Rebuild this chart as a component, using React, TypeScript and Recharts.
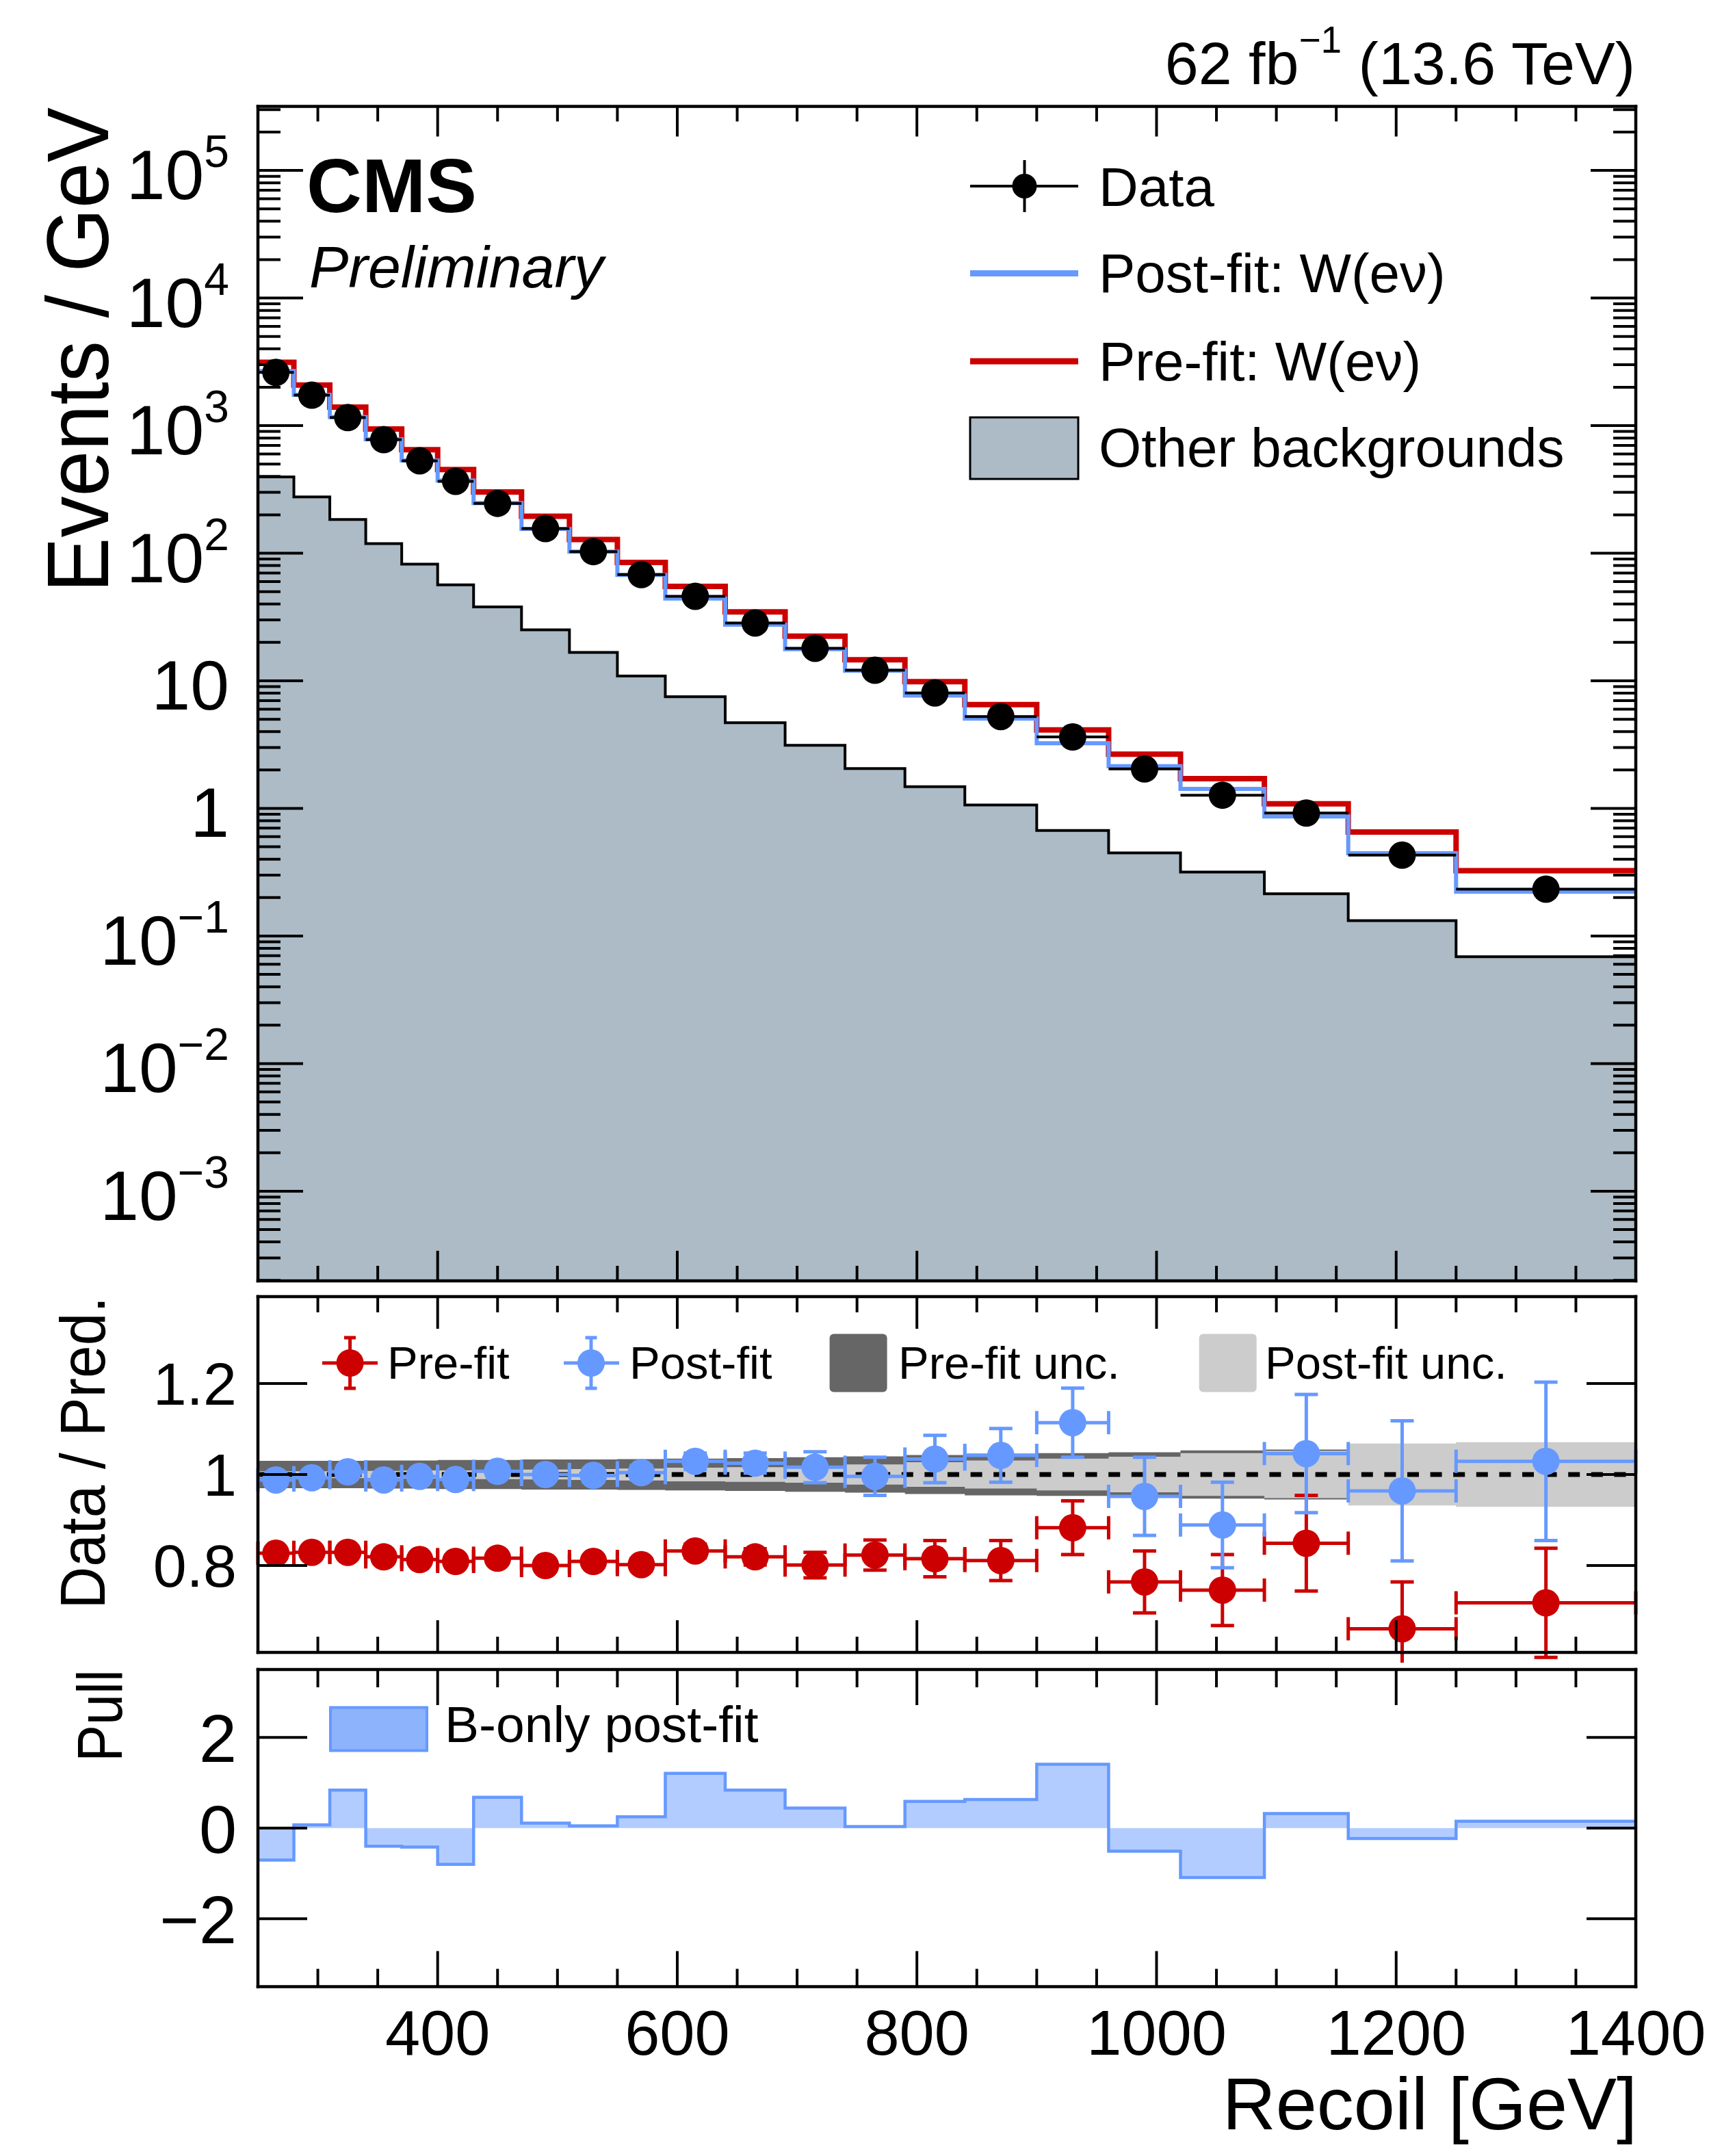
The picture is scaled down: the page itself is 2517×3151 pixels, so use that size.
import React from 'react';
import { ComposedChart, Line, Area, Scatter, XAxis, YAxis, ErrorBar } from 'recharts';

// ---------------- data ----------------
const binEdges = [250, 280, 310, 340, 370, 400, 430, 470, 510, 550, 590, 640, 690, 740, 790, 840, 900, 960, 1020, 1090, 1160, 1250, 1400];
const dataYields = [2612, 1733, 1157, 776, 530, 366, 246, 156, 103, 68, 46, 28.4, 18, 12.1, 8.04, 5.25, 3.63, 2.04, 1.27, 0.92, 0.43, 0.233];
const preFitYields = [3133, 2083, 1397, 942, 647, 453, 302, 194.6, 128, 84.7, 55, 34.7, 22.4, 14.6, 9.86, 6.51, 4.12, 2.66, 1.71, 1.087, 0.652, 0.325];
const postFitYields = [2680, 1746, 1167, 782, 533, 372, 247, 155, 102.8, 67.5, 44.2, 27.5, 17.7, 12.0, 7.67, 5.05, 3.24, 2.14, 1.42, 0.865, 0.445, 0.222];
const otherBkgYields = [396, 276, 184, 119, 82.2, 56.6, 37.9, 25.1, 16.7, 10.9, 7.5, 4.7, 3.12, 2.05, 1.48, 1.064, 0.671, 0.448, 0.317, 0.214, 0.132, 0.0687];

const ratioPreFit = [0.827, 0.829, 0.829, 0.819, 0.813, 0.809, 0.816, 0.8, 0.809, 0.802, 0.832, 0.819, 0.801, 0.823, 0.815, 0.811, 0.883, 0.764, 0.746, 0.849, 0.661, 0.718];
const ratioPreFitErr = [0.004, 0.005, 0.005, 0.006, 0.007, 0.008, 0.009, 0.01, 0.012, 0.013, 0.015, 0.018, 0.028, 0.033, 0.04, 0.044, 0.059, 0.068, 0.078, 0.105, 0.103, 0.12];
const ratioPostFit = [0.988, 0.993, 1.006, 0.988, 0.996, 0.989, 1.007, 1.0, 0.998, 1.004, 1.029, 1.025, 1.016, 0.996, 1.034, 1.042, 1.114, 0.952, 0.889, 1.046, 0.964, 1.029];
const ratioPostFitErr = [0.005, 0.006, 0.007, 0.008, 0.009, 0.01, 0.011, 0.012, 0.014, 0.016, 0.018, 0.022, 0.034, 0.042, 0.052, 0.059, 0.076, 0.086, 0.094, 0.13, 0.154, 0.174];
const preFitUncHalf = [0.03, 0.03, 0.03, 0.031, 0.031, 0.032, 0.032, 0.033, 0.033, 0.034, 0.035, 0.036, 0.038, 0.04, 0.043, 0.046, 0.047, 0.049, 0.053, 0.055, 0.06, 0.065];
const postFitUncHalf = [0.007, 0.007, 0.008, 0.008, 0.009, 0.009, 0.01, 0.011, 0.012, 0.013, 0.015, 0.016, 0.018, 0.022, 0.027, 0.031, 0.035, 0.039, 0.047, 0.052, 0.068, 0.071];

const pullValues = [-0.705, 0.07, 0.84, -0.4, -0.42, -0.8, 0.68, 0.11, 0.05, 0.25, 1.21, 0.84, 0.44, 0.035, 0.59, 0.63, 1.41, -0.51, -1.09, 0.32, -0.23, 0.15];

// ticks
const xTicks = [300, 350, 400, 450, 500, 550, 600, 650, 700, 750, 800, 850, 900, 950, 1000, 1050, 1100, 1150, 1200, 1250, 1300, 1350, 1400];
const xMajorTicks = [400, 600, 800, 1000, 1200, 1400];
const logMajorExponents = [-3, -2, -1, 0, 1, 2, 3, 4, 5];
const logMinorMultipliers = [2, 3, 4, 5, 6, 7, 8, 9];
const ratioTicks = [0.8, 1, 1.2];
const pullTicks = [-2, 0, 2];

// ---------------- style ----------------
const FONT = "'Liberation Sans', Arimo, Arial, Helvetica, sans-serif";
const RED = '#cc0000';
const BLUE = '#6699ff';
const BKG = '#acbbc6';
const XMIN = 250;
const XMAX = 1400;
const YMIN = Math.pow(10, -3.703);
const YMAX = Math.pow(10, 5.502);

// ---------------- derived series ----------------
const stepOf = (vals: number[]) => binEdges.map((e, i) => ({ x: e, y: vals[Math.min(i, vals.length - 1)] }));
const centers = binEdges.slice(0, -1).map((e, i) => (e + binEdges[i + 1]) / 2);
const halfW = binEdges.slice(0, -1).map((e, i) => (binEdges[i + 1] - e) / 2);

const bkgStep = stepOf(otherBkgYields);
const preStep = stepOf(preFitYields);
const postStep = stepOf(postFitYields);
const dataPts = centers.map((c, i) => ({ x: c, y: dataYields[i], ex: halfW[i] }));
const ratioPrePts = centers.map((c, i) => ({ x: c, y: ratioPreFit[i], ex: halfW[i], ey: ratioPreFitErr[i] }));
const ratioPostPts = centers.map((c, i) => ({ x: c, y: ratioPostFit[i], ex: halfW[i], ey: ratioPostFitErr[i] }));
const bandStep = binEdges.map((e, i) => {
  const j = Math.min(i, preFitUncHalf.length - 1);
  return { x: e, pre: [1 - preFitUncHalf[j], 1 + preFitUncHalf[j]], post: [1 - postFitUncHalf[j], 1 + postFitUncHalf[j]] };
});
const unityLine = [{ x: XMIN, y: 1 }, { x: XMAX, y: 1 }];
const pullStep = binEdges.map((e, i) => ({ x: e, p: pullValues[Math.min(i, pullValues.length - 1)] }));

const logTicks: number[] = [];
for (let e = -4; e <= 5; e++) {
  logTicks.push(Math.pow(10, e));
  logMinorMultipliers.forEach((m) => logTicks.push(m * Math.pow(10, e)));
}
const logTicksInRange = logTicks.filter((v) => v > YMIN && v < YMAX);
const isLogMajor = (v: number) => {
  const l = Math.log10(v);
  return Math.abs(l - Math.round(l)) < 1e-6 && logMajorExponents.includes(Math.round(l));
};

// ---------------- tick renderers ----------------
function makeXTick(dir: number, majLen: number, minLen: number, withLabel: boolean) {
  return (props: any) => {
    const { x, y, payload } = props;
    const v = payload.value;
    const isMaj = xMajorTicks.includes(v);
    const len = isMaj ? majLen : minLen;
    return (
      <g>
        <line x1={x} x2={x} y1={y} y2={y + dir * len} stroke="#000" strokeWidth={4} />
        {withLabel && isMaj ? (
          <text x={x} y={y + 99} textAnchor="middle" fontSize={92} fontFamily={FONT} fill="#000">
            {v}
          </text>
        ) : null}
      </g>
    );
  };
}

function makeYTick(
  dir: number,
  isMajor: (v: number) => boolean,
  majLen: number,
  minLen: number,
  label?: (v: number, x: number, y: number) => React.ReactNode
) {
  return (props: any) => {
    const { x, y, payload } = props;
    const v = payload.value;
    const maj = isMajor(v);
    const len = maj ? majLen : minLen;
    return (
      <g>
        <line x1={x} x2={x + dir * len} y1={y} y2={y} stroke="#000" strokeWidth={4} />
        {label && maj ? label(v, x, y) : null}
      </g>
    );
  };
}

const logLabel = (v: number, x: number, y: number) => {
  const e = Math.round(Math.log10(v));
  const common = { x: x - 42, y: y + 42, textAnchor: 'end' as const, fontFamily: FONT, fill: '#000', fontSize: 102 };
  if (e === 0) return <text {...common}>1</text>;
  if (e === 1) return <text {...common}>10</text>;
  return (
    <text {...common}>
      10
      <tspan dy={-47} fontSize={66}>
        {e < 0 ? '\u2212' + Math.abs(e) : String(e)}
      </tspan>
    </text>
  );
};

const ratioLabel = (v: number, x: number, y: number) => (
  <text x={x - 31} y={y + 31} textAnchor="end" fontFamily={FONT} fontSize={88} fill="#000">
    {v === 1 ? '1' : v.toFixed(1)}
  </text>
);

const pullLabel = (v: number, x: number, y: number) => (
  <text x={x - 31} y={y + 36} textAnchor="end" fontFamily={FONT} fontSize={99} fill="#000">
    {v < 0 ? '\u2212' + Math.abs(v) : String(v)}
  </text>
);

const frameLine = { stroke: '#000', strokeWidth: 4.5, strokeLinecap: 'square' as const };

const circleShape = (r: number, fill: string) => (props: any) =>
  props.cx == null || props.cy == null ? <g /> : <circle cx={props.cx} cy={props.cy} r={r} fill={fill} />;

// ---------------- overlay text helper ----------------
function VText(props: { x: number; y: number; size: number; sx?: number; children: React.ReactNode }) {
  const sx = props.sx ?? 0.93;
  return (
    <text
      transform={`translate(${props.x},${props.y}) rotate(-90) scale(${sx},1)`}
      x={0}
      y={0}
      textAnchor="end"
      fontFamily={FONT}
      fontSize={props.size}
      fill="#000"
    >
      {props.children}
    </text>
  );
}

export default function App() {
  return (
    <div style={{ position: 'absolute', left: 0, top: 0, width: 2517, height: 3151, background: '#fff', overflow: 'hidden' }}>
      {/* ---------- main panel ---------- */}
      <div style={{ position: 'absolute', left: 0, top: 0 }}>
        <ComposedChart width={2517} height={1890} margin={{ top: 154.5, right: 125, bottom: 17, left: 0 }}>
          <XAxis
            xAxisId={0}
            dataKey="x"
            type="number"
            domain={[XMIN, XMAX]}
            allowDataOverflow
            ticks={xTicks}
            interval={0}
            height={1}
            tickSize={0}
            tickMargin={0}
            axisLine={frameLine}
            tick={makeXTick(-1, 44, 22, false)}
          />
          <XAxis
            xAxisId="t"
            orientation="top"
            dataKey="x"
            type="number"
            domain={[XMIN, XMAX]}
            allowDataOverflow
            ticks={xTicks}
            interval={0}
            height={1}
            tickSize={0}
            tickMargin={0}
            axisLine={frameLine}
            tick={makeXTick(1, 44, 22, false)}
          />
          <YAxis
            yAxisId={0}
            dataKey="y"
            type="number"
            scale="log"
            domain={[YMIN, YMAX]}
            allowDataOverflow
            ticks={logTicksInRange}
            interval={0}
            width={377}
            tickSize={0}
            tickMargin={0}
            axisLine={frameLine}
            tick={makeYTick(1, isLogMajor, 66, 33, logLabel)}
          />
          <YAxis
            yAxisId="r"
            orientation="right"
            type="number"
            scale="log"
            domain={[YMIN, YMAX]}
            allowDataOverflow
            ticks={logTicksInRange}
            interval={0}
            width={1}
            tickSize={0}
            tickMargin={0}
            axisLine={frameLine}
            tick={makeYTick(-1, isLogMajor, 66, 33)}
          />
          <Area
            data={bkgStep}
            dataKey="y"
            type="stepAfter"
            baseValue={YMIN}
            fill={BKG}
            fillOpacity={1}
            stroke="#000"
            strokeWidth={4}
            dot={false}
            activeDot={false}
            isAnimationActive={false}
          />
          <Line data={preStep} dataKey="y" type="stepAfter" stroke={RED} strokeWidth={8} dot={false} activeDot={false} isAnimationActive={false} />
          <Line data={postStep} dataKey="y" type="stepAfter" stroke={BLUE} strokeWidth={6} dot={false} activeDot={false} isAnimationActive={false} />
          <Scatter data={dataPts} dataKey="y" fill="#000" shape={circleShape(20, '#000')} isAnimationActive={false}>
            <ErrorBar dataKey="ex" direction="x" width={0} stroke="#000" strokeWidth={4} />
          </Scatter>
        </ComposedChart>
      </div>

      {/* ---------- ratio panel ---------- */}
      <div style={{ position: 'absolute', left: 0, top: 1880 }}>
        <ComposedChart width={2517} height={550} margin={{ top: 14, right: 125, bottom: 14, left: 0 }}>
          <XAxis
            xAxisId={0}
            dataKey="x"
            type="number"
            domain={[XMIN, XMAX]}
            allowDataOverflow
            ticks={xTicks}
            interval={0}
            height={1}
            tickSize={0}
            tickMargin={0}
            axisLine={frameLine}
            tick={makeXTick(-1, 47, 23, false)}
          />
          <XAxis
            xAxisId="t"
            orientation="top"
            dataKey="x"
            type="number"
            domain={[XMIN, XMAX]}
            allowDataOverflow
            ticks={xTicks}
            interval={0}
            height={1}
            tickSize={0}
            tickMargin={0}
            axisLine={frameLine}
            tick={makeXTick(1, 47, 23, false)}
          />
          <YAxis
            yAxisId={0}
            dataKey="y"
            type="number"
            domain={[0.609, 1.391]}
            allowDataOverflow
            ticks={ratioTicks}
            interval={0}
            width={377}
            tickSize={0}
            tickMargin={0}
            axisLine={frameLine}
            tick={makeYTick(1, () => true, 72, 36, ratioLabel)}
          />
          <YAxis
            yAxisId="r"
            orientation="right"
            type="number"
            domain={[0.609, 1.391]}
            allowDataOverflow
            ticks={ratioTicks}
            interval={0}
            width={1}
            tickSize={0}
            tickMargin={0}
            axisLine={frameLine}
            tick={makeYTick(-1, () => true, 72, 36)}
          />
          <Area data={bandStep} dataKey="pre" type="stepAfter" fill="#666666" fillOpacity={1} stroke="none" dot={false} activeDot={false} isAnimationActive={false} />
          <Area data={bandStep} dataKey="post" type="stepAfter" fill="#cccccc" fillOpacity={1} stroke="none" dot={false} activeDot={false} isAnimationActive={false} />
          <Line data={unityLine} dataKey="y" stroke="#000" strokeWidth={7} strokeDasharray="17 16.6" dot={false} activeDot={false} isAnimationActive={false} />
          <Scatter data={ratioPrePts} dataKey="y" fill={RED} shape={circleShape(20, RED)} isAnimationActive={false}>
            <ErrorBar dataKey="ex" direction="x" width={17} stroke={RED} strokeWidth={5} />
            <ErrorBar dataKey="ey" direction="y" width={17} stroke={RED} strokeWidth={5} />
          </Scatter>
          <Scatter data={ratioPostPts} dataKey="y" fill={BLUE} shape={circleShape(20, BLUE)} isAnimationActive={false}>
            <ErrorBar dataKey="ex" direction="x" width={17} stroke={BLUE} strokeWidth={5} />
            <ErrorBar dataKey="ey" direction="y" width={17} stroke={BLUE} strokeWidth={5} />
          </Scatter>
        </ComposedChart>
      </div>

      {/* ---------- pull panel ---------- */}
      <div style={{ position: 'absolute', left: 0, top: 2430 }}>
        <ComposedChart width={2517} height={721} margin={{ top: 9, right: 125, bottom: 246.5, left: 0 }}>
          <XAxis
            xAxisId={0}
            dataKey="x"
            type="number"
            domain={[XMIN, XMAX]}
            allowDataOverflow
            ticks={xTicks}
            interval={0}
            height={1}
            tickSize={0}
            tickMargin={0}
            axisLine={frameLine}
            tick={makeXTick(-1, 52, 26, true)}
          />
          <XAxis
            xAxisId="t"
            orientation="top"
            dataKey="x"
            type="number"
            domain={[XMIN, XMAX]}
            allowDataOverflow
            ticks={xTicks}
            interval={0}
            height={1}
            tickSize={0}
            tickMargin={0}
            axisLine={frameLine}
            tick={makeXTick(1, 52, 26, false)}
          />
          <YAxis
            yAxisId={0}
            type="number"
            domain={[-3.5, 3.5]}
            allowDataOverflow
            ticks={pullTicks}
            interval={0}
            width={377}
            tickSize={0}
            tickMargin={0}
            axisLine={frameLine}
            tick={makeYTick(1, () => true, 72, 36, pullLabel)}
          />
          <YAxis
            yAxisId="r"
            orientation="right"
            type="number"
            domain={[-3.5, 3.5]}
            allowDataOverflow
            ticks={pullTicks}
            interval={0}
            width={1}
            tickSize={0}
            tickMargin={0}
            axisLine={frameLine}
            tick={makeYTick(-1, () => true, 72, 36)}
          />
          <Area
            data={pullStep}
            dataKey="p"
            type="stepAfter"
            baseValue={0}
            fill="#b3ccff"
            fillOpacity={1}
            stroke={BLUE}
            strokeWidth={4.5}
            dot={false}
            activeDot={false}
            isAnimationActive={false}
          />
        </ComposedChart>
      </div>

      {/* ---------- texts & legends ---------- */}
      <svg width={2517} height={3151} style={{ position: 'absolute', left: 0, top: 0, pointerEvents: 'none' }}>
        {/* header */}
        <text x={2390} y={123} textAnchor="end" fontFamily={FONT} fontSize={88} fill="#000">
          62 fb
          <tspan dy={-46} fontSize={55}>
            {'\u22121'}
          </tspan>
          <tspan dy={46}> (13.6 TeV)</tspan>
        </text>
        <text x={448} y={310} fontFamily={FONT} fontSize={112} fontWeight="bold" fill="#000">
          CMS
        </text>
        <text x={452} y={420} fontFamily={FONT} fontSize={86} fontStyle="italic" fill="#000">
          Preliminary
        </text>

        {/* axis titles */}
        <VText x={158} y={157} size={128} sx={0.94}>
          Events / GeV
        </VText>
        <VText x={153} y={1895} size={92} sx={0.93}>
          Data / Pred.
        </VText>
        <VText x={178} y={2440} size={92} sx={0.88}>
          Pull
        </VText>
        <text x={2393} y={3112} textAnchor="end" fontFamily={FONT} fontSize={108} fill="#000">
          Recoil [GeV]
        </text>

        {/* main legend */}
        <line x1={1418} x2={1576} y1={272} y2={272} stroke="#000" strokeWidth={4} />
        <line x1={1497.5} x2={1497.5} y1={234} y2={310} stroke="#000" strokeWidth={4} />
        <circle cx={1497.5} cy={272} r={18} fill="#000" />
        <text x={1606} y={301} fontFamily={FONT} fontSize={80} fill="#000">
          Data
        </text>
        <line x1={1418} x2={1576} y1={399.5} y2={399.5} stroke={BLUE} strokeWidth={9} />
        <text x={1606} y={427} fontFamily={FONT} fontSize={80} fill="#000">
          Post-fit: W(eν)
        </text>
        <line x1={1418} x2={1576} y1={528} y2={528} stroke={RED} strokeWidth={9} />
        <text x={1606} y={556} fontFamily={FONT} fontSize={80} fill="#000">
          Pre-fit: W(eν)
        </text>
        <rect x={1418} y={610} width={158} height={90} fill={BKG} stroke="#000" strokeWidth={3} />
        <text x={1606} y={682} fontFamily={FONT} fontSize={80} fill="#000">
          Other backgrounds
        </text>

        {/* ratio legend */}
        <line x1={471} x2={552} y1={1992} y2={1992} stroke={RED} strokeWidth={5} />
        <line x1={511.6} x2={511.6} y1={1955} y2={2029} stroke={RED} strokeWidth={5} />
        <line x1={503} x2={520} y1={1955} y2={1955} stroke={RED} strokeWidth={5} />
        <line x1={503} x2={520} y1={2029} y2={2029} stroke={RED} strokeWidth={5} />
        <circle cx={511.6} cy={1992} r={20} fill={RED} />
        <text x={566} y={2015} fontFamily={FONT} fontSize={67} fill="#000">
          Pre-fit
        </text>
        <line x1={824} x2={905} y1={1992} y2={1992} stroke={BLUE} strokeWidth={5} />
        <line x1={864} x2={864} y1={1955} y2={2029} stroke={BLUE} strokeWidth={5} />
        <line x1={855.5} x2={872.5} y1={1955} y2={1955} stroke={BLUE} strokeWidth={5} />
        <line x1={855.5} x2={872.5} y1={2029} y2={2029} stroke={BLUE} strokeWidth={5} />
        <circle cx={864} cy={1992} r={20} fill={BLUE} />
        <text x={920} y={2015} fontFamily={FONT} fontSize={67} fill="#000">
          Post-fit
        </text>
        <rect x={1212.6} y={1949.5} width={84} height={85} rx={6} fill="#666666" />
        <text x={1313} y={2015} fontFamily={FONT} fontSize={67} fill="#000">
          Pre-fit unc.
        </text>
        <rect x={1752.7} y={1949.5} width={84} height={85} rx={6} fill="#cccccc" />
        <text x={1849} y={2015} fontFamily={FONT} fontSize={67} fill="#000">
          Post-fit unc.
        </text>

        {/* pull legend */}
        <rect x={483} y={2495.5} width={141} height={63} fill="#8cb3fc" stroke={BLUE} strokeWidth={4} />
        <text x={650} y={2546} fontFamily={FONT} fontSize={75} fill="#000">
          B-only post-fit
        </text>
      </svg>
    </div>
  );
}
